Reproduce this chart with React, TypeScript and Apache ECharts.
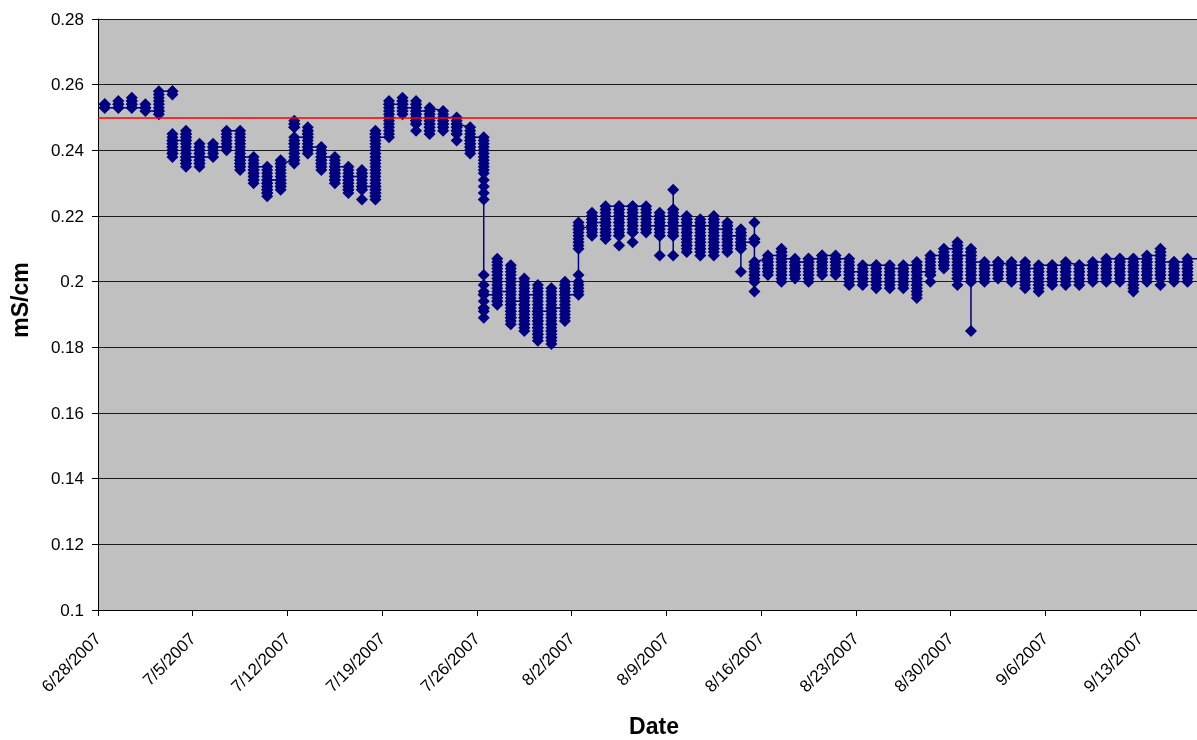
import { useEffect, useRef } from 'react';
import * as echarts from 'echarts';

// x axis: one slot per day, all readings of a day share the slot (Excel date axis)
const tickLabels = [
  '6/28/2007', '7/5/2007', '7/12/2007', '7/19/2007', '7/26/2007', '8/2/2007',
  '8/9/2007', '8/16/2007', '8/23/2007', '8/30/2007', '9/6/2007', '9/13/2007',
];
const daysPerTick = 7;
const daysShown = 81.2; // plot is cut just after 9/17

const yTicks = { min: 0.1, max: 0.28, step: 0.02 };
const thresholdLine = 0.25;

// conductivity readings per day in µS/cm, in time order (null = gap in the record)
const dailyReadings: (number | null)[][] = [
  [254, 253, 254, 253], // 6/28
  [253, 254, 255, 254, 253],
  [253, 254, 255, 256, 255, 254, 253],
  [253, 254, 253, 252],
  [252, 251, 252, 253, 254, 255, 256, 257, 258],
  [258, 257, 258, null, 245, 244, 243, 242, 241, 240, 239, 238, 239, 240, 241, 242, 243],
  [243, 244, 245, 246, 245, 244, 243, 242, 241, 240, 239, 238, 237, 236, 235, 236, 237, 238],
  [238, 239, 240, 241, 242, 241, 240, 239, 238, 237, 236, 235, 236, 237, 238], // 7/5
  [238, 239, 240, 241, 242, 241],
  [241, 240, 241, 242, 243, 244, 245, 246],
  [246, 245, 244, 243, 242, 241, 240, 239, 238, 237, 236, 235, 234, 235, 236, 237, 238],
  [238, 237, 236, 235, 234, 233, 232, 231, 230, 231, 232, 233, 234, 235],
  [235, 234, 233, 232, 231, 230, 229, 228, 227, 226, 227, 228, 229, 230, 231],
  [231, 230, 229, 228, 229, 230, 231, 232, 233, 234, 235, 236, 237, 236],
  [237, 236, 237, 238, 239, 240, 241, 242, 247, 248, 249, 248, 247, 242, 243, 244], // 7/12
  [244, 245, 246, 247, 246, 245, 244, 243, 242, 241, 240, 239, 240, 241],
  [241, 240, 239, 238, 237, 236, 235, 234, 235, 236, 237, 238],
  [238, 237, 236, 235, 234, 233, 232, 231, 230, 231, 232, 233, 234, 235],
  [235, 234, 233, 232, 231, 230, 229, 228, 227, 228, 229, 230, 231, 232],
  [232, 233, 234, 233, 232, 231, 230, 229, 228, 225, 228, 229],
  [229, 228, 227, 226, 225, 226, 227, 228, 229, 230, 231, 232, 233, 234, 235, 236, 237, 238, 239, 240, 241, 242, 243, 244, 245, 246, 245, 244],
  [244, 245, 246, 247, 248, 249, 250, 251, 252, 253, 254, 255, 254], // 7/19
  [254, 255, 256, 255, 254, 253, 252, 251, 252, 253],
  [253, 254, 255, 254, 253, 252, 251, 250, 249, 248, 246, 248, 249, 250, 251, 252],
  [252, 251, 250, 249, 248, 247, 246, 245, 246, 247, 248, 249, 250, 251, 252, 253],
  [252, 251, 250, 249, 248, 247, 246, 247, 248, 249, 250],
  [250, 249, 248, 247, 246, 245, 243, 245, 246, 247, 248],
  [247, 246, 245, 244, 243, 242, 241, 240, 239, 240, 241, 242, 243, 244],
  [244, 243, 242, 241, 240, 239, 238, 237, 236, 235, 234, 233, 231, 229, 227, 225, 202, 199, 197, 196, 194, 192, 191, 189, 192, 196], // 7/26
  [196, 195, 194, 193, 194, 196, 198, 200, 202, 204, 206, 207, 205, 203, 201, 199, 197],
  [197, 199, 201, 203, 205, 204, 202, 200, 198, 196, 195, 194, 193, 192, 191, 190, 189, 188, 187, 189, 191, 193, 194],
  [194, 196, 198, 200, 201, 199, 197, 195, 193, 192, 191, 190, 189, 188, 187, 186, 185, 187, 189, 191, 193, 195, 196],
  [196, 198, 199, 197, 195, 194, 193, 192, 191, 190, 189, 188, 187, 186, 185, 184, 183, 182, 184, 186, 188, 190, 191],
  [191, 193, 195, 197, 198, 196, 194, 192, 190, 189, 188, 187, 186, 185, 184, 183, 182, 181, 183, 185, 187, 189, 191, 192],
  [192, 190, 188, 189, 191, 193, 194, 195, 196, 197, 198, 199, 200, 198, 196],
  [196, 197, 198, 199, 200, 202, 210, 211, 212, 213, 214, 215, 216, 217, 218, 217, 216], // 8/2
  [217, 216, 215, 214, 215, 216, 217, 218, 219, 220, 221, 220, 219, 218],
  [218, 217, 216, 215, 214, 213, 214, 215, 216, 217, 218, 219, 220, 221, 222, 223],
  [223, 222, 221, 220, 219, 218, 217, 216, 215, 214, 211, 214, 216, 218, 220, 222, 223],
  [223, 222, 221, 220, 219, 218, 217, 216, 215, 212, 215, 217, 219, 221, 223],
  [223, 222, 221, 220, 219, 218, 217, 216, 215, 216, 217],
  [217, 218, 219, 220, 221, 220, 219, 218, 217, 216, 215, 214, 208, 214, 216, 217],
  [217, 218, 219, 220, 221, 222, 228, 222, 220, 218, 216, 215, 214, 208, 214, 215, 217], // 8/9
  [217, 218, 219, 220, 219, 218, 217, 216, 215, 214, 213, 212, 211, 210, 209, 211, 213, 215, 217],
  [217, 218, 219, 218, 217, 216, 215, 214, 213, 212, 211, 210, 209, 208, 210, 212, 214, 216, 217],
  [217, 218, 219, 220, 219, 218, 217, 216, 215, 214, 213, 212, 211, 210, 209, 208, 210, 212, 214, 216],
  [216, 217, 218, 217, 216, 215, 214, 213, 212, 211, 210, 209, 211, 213, 214],
  [214, 215, 216, 215, 214, 213, 212, 211, 210, 203, 210, 211, 212],
  [212, 213, 218, 213, 212, 206, 205, 204, 203, 202, 201, 200, 197, 200, 202, 204, 206],
  [207, 206, 205, 204, 203, 202, 203, 204, 205, 206, 207, 208], // 8/16
  [208, 209, 210, 209, 208, 207, 206, 205, 204, 203, 202, 201, 200, 202, 204, 206, 207],
  [207, 206, 205, 204, 203, 202, 201, 202, 203, 204, 205, 206],
  [206, 207, 206, 205, 204, 203, 202, 201, 200, 202, 204, 206, 207],
  [207, 208, 207, 206, 205, 204, 203, 202, 204, 206, 208],
  [208, 207, 206, 205, 204, 203, 202, 204, 206, 207],
  [207, 206, 205, 204, 203, 202, 201, 200, 199, 201, 203],
  [203, 202, 201, 200, 199, 201, 203, 204, 205], // 8/23
  [205, 204, 203, 202, 201, 200, 199, 198, 200, 202, 204, 205],
  [205, 204, 203, 202, 201, 200, 199, 198, 200, 202, 204],
  [204, 203, 202, 201, 200, 199, 198, 200, 202, 203, 204, 205],
  [205, 206, 205, 204, 203, 202, 201, 200, 199, 198, 197, 196, 195, 197, 199, 201, 203],
  [203, 202, 200, 202, 203, 204, 205, 206, 207, 208],
  [208, 207, 206, 205, 204, 205, 206, 207, 208, 209, 210],
  [210, 211, 212, 211, 210, 209, 208, 207, 206, 205, 204, 203, 202, 201, 199, 201, 203, 205, 207, 208], // 8/30
  [208, 209, 210, 209, 208, 207, 206, 205, 204, 203, 202, 201, 200, 185, 200, 202, 204, 206],
  [206, 205, 204, 203, 202, 201, 200, 202, 204, 205],
  [205, 206, 205, 204, 203, 202, 201, 203, 205, 206],
  [205, 206, 205, 204, 203, 202, 201, 200, 202, 204, 205],
  [205, 206, 205, 204, 203, 202, 201, 200, 199, 198, 200, 202, 204],
  [204, 203, 202, 201, 200, 199, 198, 197, 199, 201, 203, 204, 205],
  [205, 204, 203, 202, 201, 200, 199, 201, 203, 205], // 9/6
  [205, 204, 203, 202, 201, 200, 199, 201, 203, 205, 206],
  [205, 204, 203, 202, 201, 200, 199, 201, 203, 205],
  [205, 204, 203, 202, 201, 200, 202, 204, 205, 206],
  [206, 205, 204, 203, 202, 201, 200, 202, 204, 206, 207],
  [207, 206, 205, 204, 203, 202, 201, 200, 202, 204, 206, 207],
  [207, 206, 205, 204, 203, 202, 201, 200, 199, 198, 197, 199, 201, 203, 205, 207],
  [207, 206, 205, 204, 203, 202, 201, 200, 202, 204, 206, 208], // 9/13
  [208, 209, 210, 209, 208, 207, 206, 205, 204, 203, 202, 201, 199, 202, 204, 206],
  [206, 205, 204, 203, 202, 201, 200, 202, 204, 206],
  [206, 205, 204, 203, 202, 201, 200, 202, 204, 206, 207],
  [207, 206], // 9/17, only the start falls inside the plot
];

const font = '"Liberation Sans", Arial, sans-serif';

export default function App() {
  const chartRef = useRef<HTMLDivElement>(null);

  useEffect(() => {
    if (!chartRef.current) return;
    const chart = echarts.init(chartRef.current, undefined, { renderer: 'svg' });

    // µS/cm -> mS/cm, each reading placed in the middle of its day
    const points: [number, number | null][] = [];
    dailyReadings.forEach((day, d) => {
      day.forEach((v) => points.push([d + 0.5, v === null ? null : v / 1000]));
    });

    chart.setOption({
      animation: false,
      grid: {
        left: 98,
        top: 19,
        right: 0,
        bottom: 130,
        show: true,
        backgroundColor: '#c0c0c0',
        borderWidth: 0,
      },
      xAxis: {
        type: 'value',
        min: 0,
        max: daysShown,
        interval: daysPerTick,
        axisLine: { show: true, onZero: false, lineStyle: { color: '#000', width: 1 } },
        axisTick: { show: true, length: 6, lineStyle: { color: '#000' } },
        splitLine: { show: false },
        axisLabel: {
          rotate: 45,
          margin: 26,
          color: '#000',
          fontFamily: font,
          fontSize: 17,
          showMaxLabel: false,
          formatter: (v: number) =>
            v % daysPerTick === 0 ? tickLabels[v / daysPerTick] ?? '' : '',
        },
      },
      yAxis: {
        type: 'value',
        min: yTicks.min,
        max: yTicks.max,
        interval: yTicks.step,
        axisLine: { show: true, lineStyle: { color: '#000', width: 1 } },
        axisTick: { show: true, length: 6, lineStyle: { color: '#000' } },
        splitLine: { show: true, lineStyle: { color: '#1a1a1a', width: 1 } },
        axisLabel: { margin: 14, color: '#000', fontFamily: font, fontSize: 17 },
      },
      graphic: [
        {
          type: 'text',
          x: 654,
          y: 726,
          style: {
            text: 'Date',
            fill: '#000',
            fontFamily: font,
            fontSize: 23,
            fontWeight: 'bold',
            align: 'center',
            verticalAlign: 'middle',
            textAlign: 'center',
            textVerticalAlign: 'middle',
          },
        },
        {
          type: 'text',
          x: 20,
          y: 300,
          rotation: Math.PI / 2,
          style: {
            text: 'mS/cm',
            fill: '#000',
            fontFamily: font,
            fontSize: 23,
            fontWeight: 'bold',
            align: 'center',
            verticalAlign: 'middle',
            textAlign: 'center',
            textVerticalAlign: 'middle',
          },
        },
      ],
      series: [
        {
          name: 'Conductivity',
          type: 'line',
          data: points,
          connectNulls: false,
          showSymbol: true,
          showAllSymbol: true,
          symbol: 'diamond',
          symbolSize: 12,
          lineStyle: { color: '#000080', width: 1.5 },
          itemStyle: { color: '#000080', borderWidth: 0 },
          emphasis: { disabled: true },
          markLine: {
            silent: true,
            symbol: ['none', 'none'],
            label: { show: false },
            lineStyle: { color: '#ff0000', type: 'solid', width: 1.5 },
            data: [{ yAxis: thresholdLine }],
          },
        },
      ],
    });

    return () => {
      chart.dispose();
    };
  }, []);

  return (
    <div
      ref={chartRef}
      style={{ position: 'fixed', left: 0, top: 0, width: 1197, height: 740 }}
    />
  );
}
